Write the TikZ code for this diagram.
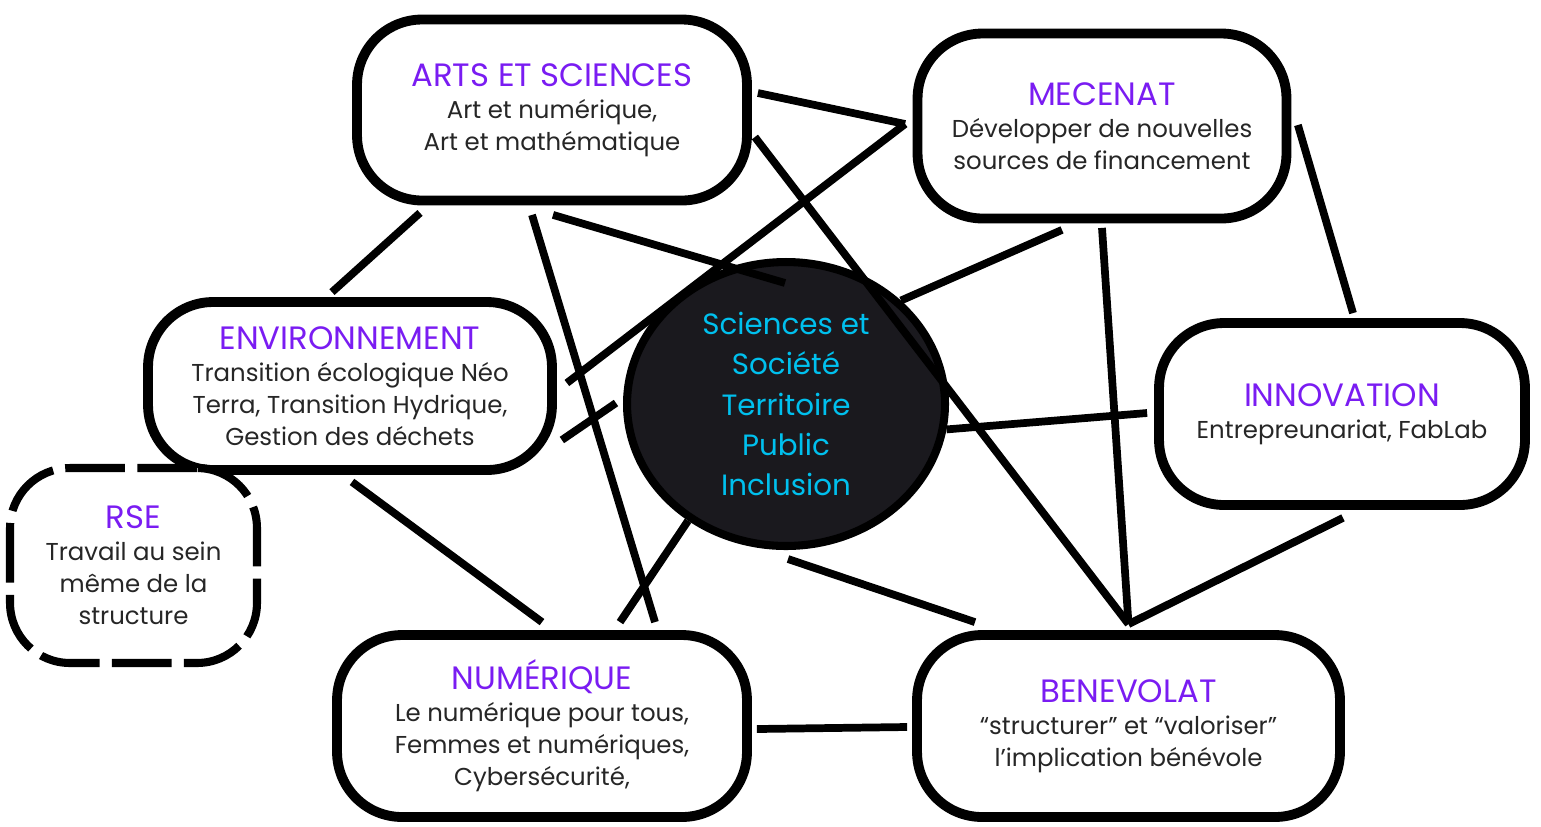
\documentclass[tikz,border=0pt]{standalone}
\usepackage{fontspec}
\setmainfont{Poppins}
\usepackage{xcolor}
\usetikzlibrary{calc,shapes.geometric}
\definecolor{titlepurple}{HTML}{7A1CF2}
\definecolor{corecyan}{HTML}{00C0EE}
\definecolor{coreink}{HTML}{1A191E}
\definecolor{bodyink}{HTML}{262626}
\newcommand{\topichead}[1]{{\fontsize{18.4}{18.2}\selectfont\color{titlepurple}#1}}
\tikzset{
	topic/.style={
			draw, line width=5.6pt, rounded corners=1.3cm, fill=white,
			align=center, inner sep=0pt, text=bodyink,
			font=\fontsize{13.9}{18.2}\selectfont
		},
	link/.style={line width=4.4pt}
}

\begin{document}
\begin{tikzpicture}[x=0.02cm, y=-0.02cm]
		\useasboundingbox (0, 0) rectangle (1541, 826);

		\node[topic, minimum width=7.8cm, minimum height=3.62cm]	(arts) at (552, 110)
			{\topichead{ARTS ET SCIENCES}\\Art et numérique,\\Art et mathématique};
		\node[topic, minimum width=7.38cm, minimum height=3.7cm]	(mecenat) at (1102, 126)
			{\topichead{MECENAT}\\Développer de nouvelles\\sources de financement};
		\node[topic, minimum width=8.08cm, minimum height=3.36cm]	(env) at (350, 386)
			{\topichead{ENVIRONNEMENT}\\Transition écologique Néo\\Terra, Transition Hydrique,\\Gestion des déchets};
		\node[topic, minimum width=7.32cm, minimum height=3.64cm]	(innov) at (1342, 414)
			{\topichead{INNOVATION}\\Entrepreunariat, FabLab};
		\node[topic, dash pattern=on 34pt off 7pt, line width=4.6pt, rounded corners=1.2cm,
			minimum width=4.94cm, minimum height=3.9cm]	(rse) at (133.5, 565.5)
			{\topichead{RSE}\\Travail au sein\\même de la\\structure};
		\node[topic, minimum width=8.2cm, minimum height=3.64cm]	(num) at (542, 726)
			{\topichead{NUMÉRIQUE}\\Le numérique pour tous,\\Femmes et numériques,\\Cybersécurité,};
		\node[topic, minimum width=8.46cm, minimum height=3.64cm]	(benev) at (1128.5, 726)
			{\topichead{BENEVOLAT}\\“structurer” et “valoriser”\\l’implication bénévole};

		\node[ellipse, draw, line width=4.6pt, fill=coreink, inner sep=0pt,
			minimum width=6.36cm, minimum height=5.68cm, align=center, text=corecyan,
			font=\fontsize{16.7}{22.8}\selectfont]	(core) at (786, 404)
			{Sciences et\\Société\\Territoire\\Public\\Inclusion};

		% links
		\draw[link]	($(arts.south)+(-132, 7.5)$) to ($(env.north)+(-18, -5)$);
		\draw[link]	($(arts.south)+(-20, 9.5)$) to ($(num.north)+(113, -8)$);
		\draw[link]	($(arts.south)+(1, 9.5)$) to ($(core.north)+(-1, 25)$);
		\draw[link]	($(arts.east)+(6, -17)$) to ($(mecenat.west)+(-7.5, -2)$);
		\draw[link]	($(arts.east)+(3, 27)$) to ($(benev.north)+(0, -6)$);
		\draw[link]	($(mecenat.west)+(-7.5, -2)$) to ($(env.east)+(10, -3)$);
		\draw[link]	($(mecenat.south)+(-40, 6.5)$) to (core.42);
		\draw[link]	($(mecenat.south)+(0, 4.5)$) to ($(benev.north)+(0, -6)$);
		\draw[link]	($(mecenat.east)+(6.5, -1)$) to ($(innov.north)+(11, -5)$);
		\draw[link]	($(env.east)+(5, 54)$) to ($(core.west)+(-7, -1)$);
		\draw[link]	($(env.south)+(2, 7)$) to ($(num.north)+(0, -8)$);
		\draw[link]	(core.230) to ($(num.north)+(78, -8)$);
		\draw[link]	(core.-9) to ($(innov.west)+(-7, -1)$);
		\draw[link]	($(core.south)+(2, 9)$) to ($(benev.north)+(-153.5, -8)$);
		\draw[link]	($(innov.south)+(1, 8)$) to ($(benev.north)+(0, -6)$);
		\draw[link]	($(num.east)+(5, 3)$) to ($(benev.west)+(-5, 1)$);
	\end{tikzpicture}
\end{document}
